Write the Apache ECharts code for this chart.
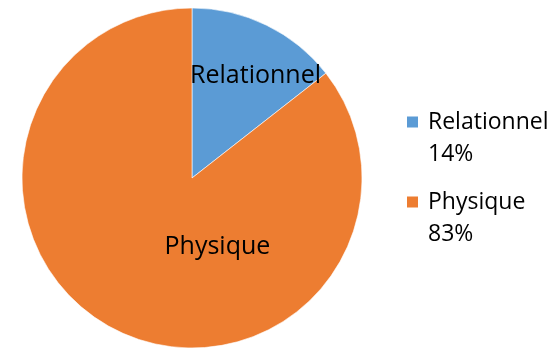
<!DOCTYPE html>
<html>
<head>
<meta charset="utf-8">
<script src="https://cdn.jsdelivr.net/npm/echarts@6/dist/echarts.min.js"></script>
<style>
  html, body { margin: 0; padding: 0; background: #fff; }
  #chart { width: 559px; height: 349px; }
</style>
</head>
<body>
<div id="chart"></div>
<script>
// Categories and their shares (percent)
const categories = ['Relationnel', 'Physique'];
const shares = [14, 83];
const colors = ['#5B9BD5', '#ED7D31'];

// Nudges for the in-slice category labels
const labelShift = [[25, -23], [64, -10]];

const FONT = '"Open Sans", "Liberation Sans", sans-serif';

const chart = echarts.init(document.getElementById('chart'), null, { renderer: 'canvas' });

chart.setOption({
  animation: false,
  backgroundColor: '#ffffff',
  legend: {
    orient: 'vertical',
    left: 405,
    top: 74,
    padding: 0,
    itemWidth: 13,
    itemHeight: 13,
    itemGap: -16,
    icon: 'rect',
    data: categories,
    // an empty first line keeps the marker level with the category name
    formatter: function (name) {
      const i = categories.indexOf(name);
      return '{t|}\n{t|' + name + '}\n{t|' + shares[i] + '%}';
    },
    textStyle: {
      fontFamily: FONT,
      fontSize: 23,
      lineHeight: 32,
      color: '#000',
      rich: {
        t: {
          fontFamily: FONT,
          fontSize: 23,
          lineHeight: 32,
          color: '#000',
          padding: [0, 0, 0, 4]
        }
      }
    }
  },
  series: [{
    type: 'pie',
    center: [192, 178],
    radius: 170,
    startAngle: 90,
    clockwise: true,
    data: categories.map((c, i) => ({
      name: c,
      value: shares[i],
      itemStyle: { color: colors[i] }
    })),
    itemStyle: { borderColor: '#ffffff', borderWidth: 0.6 },
    label: {
      show: true,
      position: 'inside',
      formatter: '{b}',
      fontFamily: FONT,
      fontSize: 25,
      color: '#000'
    },
    labelLine: { show: false },
    labelLayout: function (params) {
      const s = labelShift[params.dataIndex];
      return { dx: s[0], dy: s[1] };
    },
    emphasis: { disabled: true }
  }]
});
</script>
</body>
</html>
